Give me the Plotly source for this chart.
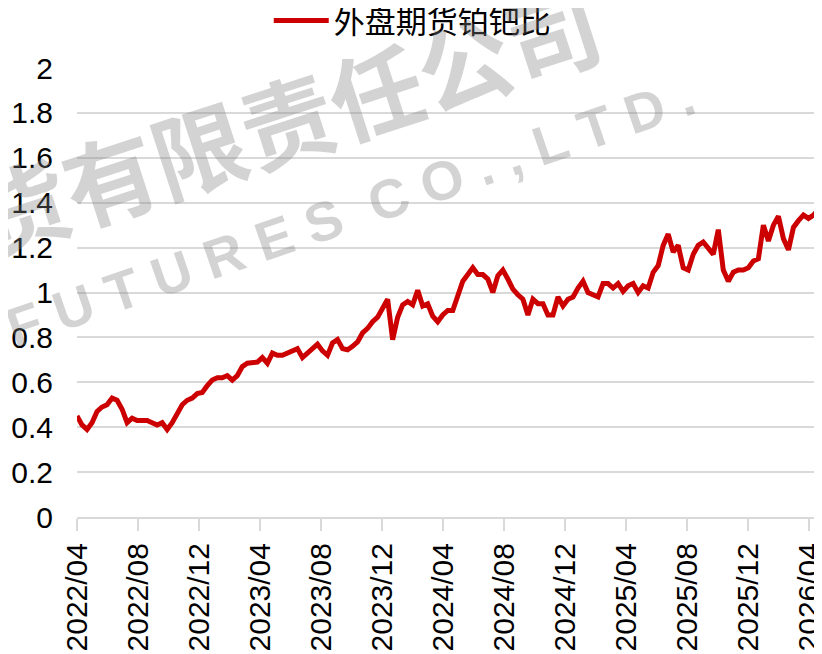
import pandas as pd
import plotly.graph_objects as go

# 外盘期货铂钯比, sampled every 10 days from 2022-04-01
start_date = "2022-04-01"
step = "10D"
ratio = [
  0.45, 0.41, 0.39, 0.42, 0.47, 0.49, 0.50, 0.53, 0.52, 0.48,
  0.42, 0.44, 0.43, 0.43, 0.43, 0.42, 0.41, 0.42, 0.39, 0.42,
  0.46, 0.50, 0.52, 0.53, 0.55, 0.555, 0.585, 0.61, 0.62, 0.62,
  0.63, 0.61, 0.63, 0.67, 0.685, 0.69, 0.69, 0.71, 0.685, 0.73,
  0.72, 0.72, 0.73, 0.74, 0.75, 0.71, 0.73, 0.75, 0.77, 0.74,
  0.72, 0.775, 0.79, 0.75, 0.745, 0.76, 0.78, 0.82, 0.84, 0.87,
  0.89, 0.93, 0.97, 0.79, 0.89, 0.945, 0.96, 0.945, 1.01, 0.94,
  0.95, 0.895, 0.87, 0.90, 0.92, 0.92, 0.98, 1.05, 1.08, 1.11,
  1.08, 1.08, 1.06, 1.00, 1.075, 1.10, 1.06, 1.015, 0.99, 0.97,
  0.90, 0.97, 0.95, 0.95, 0.90, 0.90, 0.98, 0.94, 0.97, 0.98,
  1.02, 1.05, 1.00, 0.99, 0.98, 1.04, 1.04, 1.02, 1.04, 1.005,
  1.03, 1.04, 1.00, 1.03, 1.02, 1.09, 1.12, 1.21, 1.26, 1.18,
  1.21, 1.11, 1.10, 1.17, 1.21, 1.225, 1.20, 1.17, 1.28, 1.10,
  1.05, 1.09, 1.10, 1.10, 1.11, 1.14, 1.15, 1.30, 1.23, 1.30,
  1.34, 1.24, 1.19, 1.29, 1.32, 1.345, 1.33, 1.345, 1.37, 1.29,
]
dates = pd.date_range(start_date, periods=len(ratio), freq=step)

series_name = "外盘期货铂钯比"
x_range = ["2022-04-01", "2026-04-27"]

grid = "#d9d9d9"
wm_color = "rgba(128,128,128,0.35)"

fig = go.Figure(go.Scatter(
  x=dates,
  y=ratio,
  mode="lines",
  name=series_name,
  line=dict(color="#cc0000", width=5),
))

# the page body adds an 8px offset, margins are set to compensate
fig.update_layout(
  width=822,
  height=654,
  margin=dict(l=69, r=8, t=60, b=145, autoexpand=False),
  plot_bgcolor="white",
  paper_bgcolor="white",
  font=dict(family="Liberation Sans, Arial, sans-serif", size=30, color="black"),
  showlegend=True,
  legend=dict(
    orientation="h",
    x=0.45, xanchor="center",
    y=1.105, yanchor="middle",
    font=dict(family="Noto Sans CJK SC", size=31, color="black"),
    itemwidth=55,
    bgcolor="rgba(0,0,0,0)",
  ),
  xaxis=dict(
    type="date",
    range=x_range,
    tick0="2022-04-01",
    dtick="M4",
    tickformat="%Y/%m",
    tickangle=-90,
    ticks="outside",
    ticklen=12,
    tickwidth=2,
    tickcolor=grid,
    ticklabeloverflow="allow",
    showgrid=False,
    showline=True,
    linecolor=grid,
    linewidth=2,
    zeroline=False,
    automargin=False,
  ),
  yaxis=dict(
    range=[0, 2],
    dtick=0.2,
    showgrid=True,
    gridcolor=grid,
    gridwidth=1.5,
    zeroline=False,
    ticks="",
    ticklabelstandoff=23,
    automargin=False,
  ),
)

# watermark
fig.add_annotation(
  text="期货有限责任公司",
  xref="paper", yref="paper",
  x=0.222, y=0.858,
  xanchor="center", yanchor="middle",
  showarrow=False,
  textangle=-18,
  font=dict(family="Noto Sans CJK SC", size=93, color=wm_color, weight=700),
)
fig.add_annotation(
  text="F U T U R E S  C O . , L T D .",
  xref="paper", yref="paper",
  x=0.367, y=0.679,
  xanchor="center", yanchor="middle",
  showarrow=False,
  textangle=-19,
  font=dict(family="Liberation Sans, Arial, sans-serif", size=55, color=wm_color, weight=700),
)

fig.write_html("out.html")
